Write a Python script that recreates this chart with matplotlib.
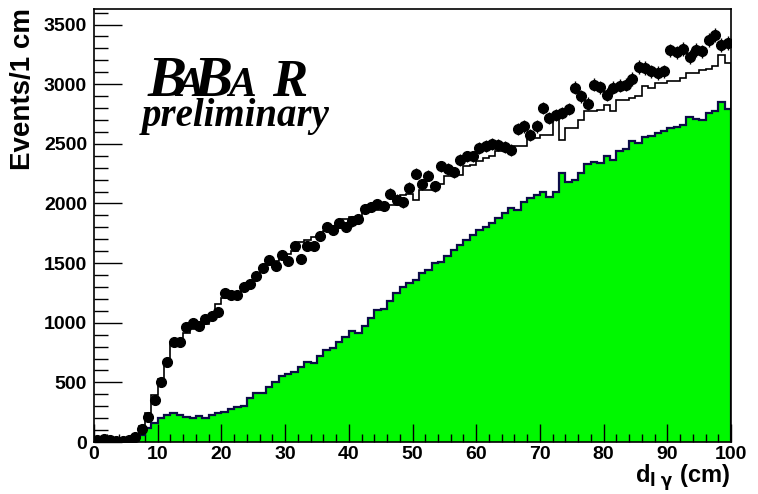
import numpy as np
import matplotlib
matplotlib.use("Agg")
import matplotlib.pyplot as plt

# events per 1 cm bin, d_lgamma from 0 to 100 cm
bin_edges = np.arange(0, 101, 1)

data_counts = [
    17, 22, 17, 5, 5, 17, 45, 112, 212, 355,
    506, 672, 840, 840, 963, 998, 973, 1030, 1055, 1087,
    1245, 1236, 1236, 1303, 1328, 1395, 1456, 1524, 1477, 1569,
    1521, 1639, 1530, 1645, 1645, 1731, 1801, 1779, 1835, 1801,
    1849, 1869, 1955, 1969, 1994, 1980, 2081, 2030, 2008, 2133,
    2249, 2160, 2234, 2142, 2310, 2288, 2260, 2366, 2394, 2394,
    2464, 2478, 2500, 2492, 2472, 2450, 2624, 2646, 2576, 2646,
    2800, 2716, 2743, 2758, 2791, 2968, 2900, 2836, 2995, 2976,
    2911, 2968, 2987, 2995, 3043, 3144, 3135, 3107, 3093, 3107,
    3283, 3266, 3294, 3227, 3289, 3275, 3373, 3415, 3331, 3345,
]

mc_total = [
    5, 5, 5, 5, 8, 15, 40, 130, 240, 390,
    530, 690, 840, 850, 910, 950, 960, 990, 1030, 1160,
    1205, 1235, 1240, 1280, 1320, 1370, 1440, 1490, 1520, 1560,
    1580, 1600, 1680, 1690, 1720, 1740, 1770, 1790, 1820, 1870,
    1890, 1880, 1930, 1950, 1945, 1970, 1990, 1990, 2070, 2075,
    2030, 2110, 2114, 2120, 2160, 2226, 2226, 2240, 2310, 2320,
    2352, 2380, 2400, 2436, 2436, 2440, 2478, 2480, 2548, 2550,
    2576, 2576, 2740, 2530, 2632, 2632, 2700, 2772, 2772, 2780,
    2827, 2772, 2869, 2869, 2880, 2897, 2981, 2967, 3009, 3009,
    3023, 3023, 3051, 3093, 3093, 3121, 3130, 3149, 3247, 3177,
]

mc_component = [
    0, 0, 0, 0, 0, 5, 31, 59, 115, 157,
    199, 227, 241, 227, 213, 199, 222, 205, 227, 241,
    254, 274, 291, 302, 366, 408, 408, 459, 506, 554,
    571, 590, 632, 674, 660, 722, 772, 786, 842, 878,
    931, 917, 973, 1038, 1107, 1116, 1180, 1247, 1303, 1337,
    1360, 1420, 1440, 1500, 1510, 1560, 1610, 1650, 1695, 1737,
    1779, 1806, 1840, 1877, 1919, 1961, 1947, 2008, 2045, 2072,
    2092, 2058, 2092, 2254, 2176, 2198, 2254, 2330, 2350, 2335,
    2394, 2366, 2440, 2460, 2520, 2510, 2560, 2562, 2590, 2604,
    2632, 2640, 2660, 2724, 2708, 2696, 2758, 2772, 2847, 2791,
]

W, H = 758, 494
fig = plt.figure(figsize=(W / 100, H / 100), dpi=100)
ax = fig.add_axes([94 / W, 52 / H, 637 / W, 433 / H])

centers = 0.5 * (bin_edges[:-1] + bin_edges[1:])
data = np.array(data_counts, dtype=float)

ax.stairs(mc_component, bin_edges, fill=True, color="#00f800", zorder=1)
ax.stairs(mc_component, bin_edges, color="#0c0c48", lw=1.6, zorder=2)
ax.stairs(mc_total, bin_edges, color="black", lw=1.2, zorder=3)
ax.errorbar(centers, data, yerr=np.sqrt(data), fmt="o", ms=7,
            color="black", ecolor="black", elinewidth=1.0, capsize=0, zorder=4)

ax.set_xlim(0, 100)
ax.set_ylim(0, 3630)
ax.set_xticks(np.arange(0, 101, 10))
ax.set_xticks(np.arange(0, 101, 2), minor=True)
ax.set_yticks(np.arange(0, 3501, 500))
ax.set_yticks(np.arange(0, 3601, 100), minor=True)

tick_font = dict(family="Liberation Sans", weight="bold", size=14)
ax.tick_params(axis="both", which="both", direction="in", top=False, right=False)
ax.tick_params(axis="y", which="major", length=20, width=1.0, pad=5)
ax.tick_params(axis="y", which="minor", length=10, width=1.0)
ax.tick_params(axis="x", which="major", length=13, width=1.0, pad=3)
ax.tick_params(axis="x", which="minor", length=6, width=1.0)
for lab in ax.get_xticklabels() + ax.get_yticklabels():
    lab.set_fontproperties(tick_font)
for sp in ax.spines.values():
    sp.set_linewidth(1.2)

fig.text(730 / W, 1 - 483 / H, r"d$_{\mathbf{l\ \gamma}}$ (cm)", ha="right", va="baseline",
         fontsize=17, fontweight="bold", family="Liberation Sans")
fig.text(36 / W, 1 - 8 / H, "Events/1 cm", rotation=90, ha="right", va="top",
         fontsize=20, fontweight="bold", family="Liberation Sans")

# BaBar logo letters
logo = dict(family="Liberation Serif", style="italic", weight="bold", color="black")
letters = [("B", 148, 42), ("A", 176, 30), ("B", 194, 42), ("A", 228, 30), ("R", 272, 38)]
for ch, px, size in letters:
    fig.text(px / W, 1 - 96 / H, ch, ha="left", va="baseline", fontsize=size, **logo)
fig.text(236 / W, 1 - 126 / H, "preliminary", ha="center", va="baseline", fontsize=28, **logo)

fig.savefig("out.png", dpi=100)
